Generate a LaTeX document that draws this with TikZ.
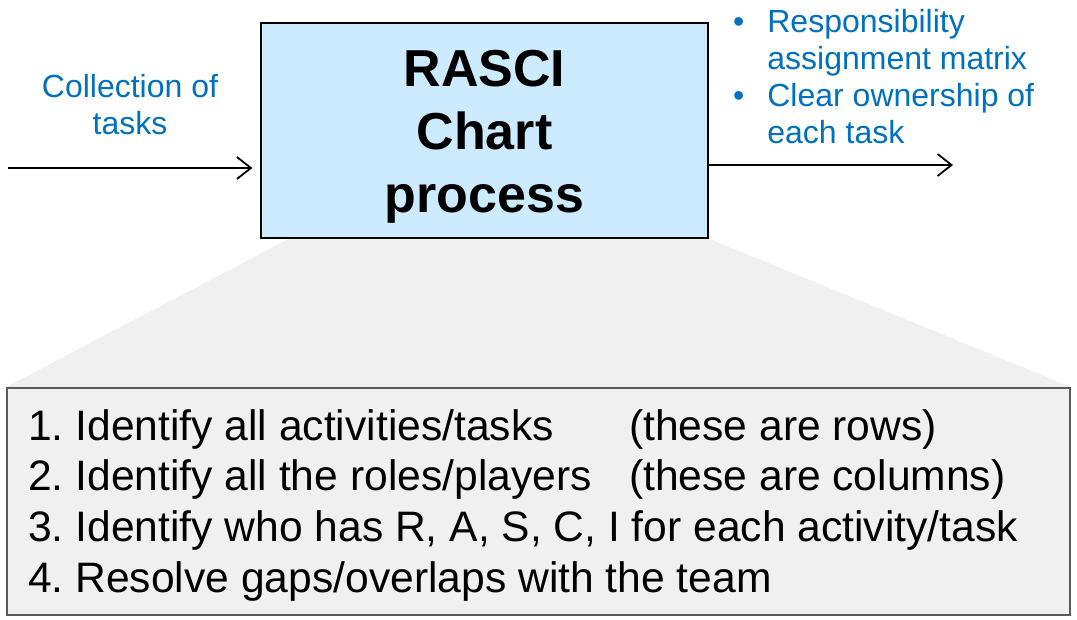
\documentclass[tikz,border=0pt]{standalone}
\usepackage{fontspec}
\usepackage{xcolor}
\setmainfont{Liberation Sans}
\frenchspacing
\definecolor{flowblue}{HTML}{0070C0}
\definecolor{procfill}{HTML}{CCEBFF}
\definecolor{zoomgray}{HTML}{F0F0F0}
\definecolor{edgegray}{HTML}{5A5A5A}
\usetikzlibrary{arrows.meta,backgrounds}

\begin{document}
\begin{tikzpicture}[x=1pt, y=-1pt,
    flow/.style={line width=1.8pt, -{Straight Barb[length=14pt,width=22pt,line width=1.8pt]}},
    every node/.style={inner sep=0pt}]
  \useasboundingbox (0,0) rectangle (1077,620);
  % the process box
  \node[draw, line width=1.2pt, fill=procfill, minimum width=447pt, minimum height=215pt]
    (rasci) at (484.5,130.5) {};
  \node[anchor=base, font=\fontsize{52}{63}\selectfont\bfseries]
    (title) at (484.5,86.5) {\begin{tabular}[t]{@{}c@{}}RASCI\\Chart\\process\end{tabular}};
  % input and output
  \node[text=flowblue, align=center, font=\fontsize{32}{37}\selectfont]
    (input) at (130,105) {Collection of\\tasks};
  \node[text=flowblue, anchor=base west, font=\fontsize{32}{37}\selectfont]
    (output) at (733,33) {\begin{tabular}[t]{@{}l@{\hspace{23pt}}l@{}}
      \textbullet & Responsibility\\
                  & assignment matrix\\
      \textbullet & Clear ownership of\\
                  & each task
    \end{tabular}};
  \coordinate (in) at (8,168);
  \coordinate (out) at (953,165);
  \draw[flow, shorten >=8pt] (in) -- (in -| rasci.west);
  \draw[flow] (out -| rasci.east) -- (out);
  % the steps
  \node[draw=edgegray, line width=2pt, fill=zoomgray, minimum width=1063pt, minimum height=227pt]
    (steps) at (538.5,501.5) {};
  \node[anchor=base west, font=\fontsize{42.6}{50.7}\selectfont]
    (steplist) at (28,440) {\begin{tabular}[t]{@{}p{601pt}@{}l@{}}
      1. Identify all activities/tasks & (these are rows)\\
      2. Identify all the roles/players & (these are columns)\\
      \multicolumn{2}{@{}l@{}}{3. Identify who has R, A, S, C, I for each activity/task}\\
      \multicolumn{2}{@{}l@{}}{4. Resolve gaps/overlaps with the team}
    \end{tabular}};
  \begin{pgfonlayer}{background}
    \fill[zoomgray] ([xshift=29pt]rasci.south west) -- (rasci.south east)
      -- (steps.north east) -- (steps.north west) -- cycle;
  \end{pgfonlayer}
\end{tikzpicture}
\end{document}
